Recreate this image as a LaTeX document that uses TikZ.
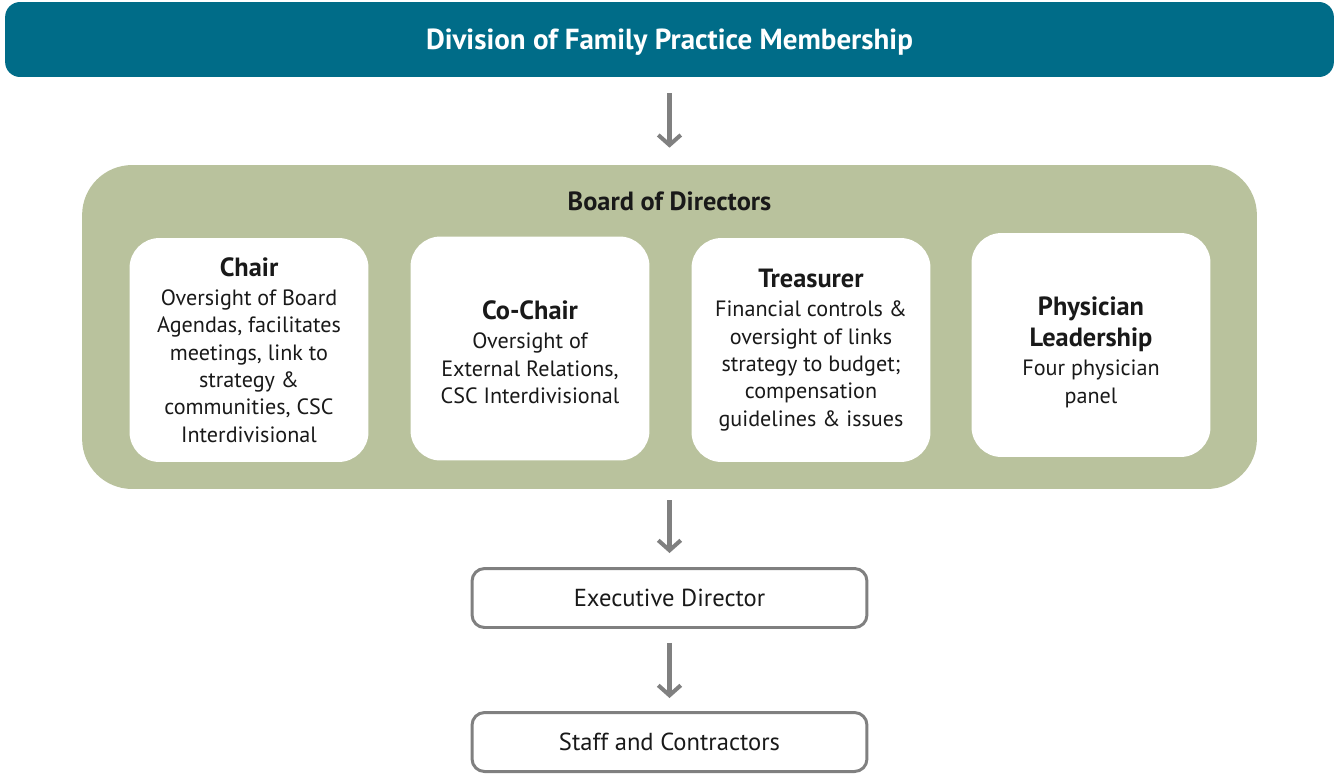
\documentclass[tikz,border=0pt]{standalone}
\usepackage{fontspec}
\setmainfont{PT Sans}
\usetikzlibrary{arrows.meta}

\definecolor{membteal}{RGB}{0,108,136}
\definecolor{boardgreen}{RGB}{185,194,157}
\definecolor{arrowgray}{RGB}{128,128,128}
\definecolor{textdark}{RGB}{25,25,25}

\tikzset{
  banner/.style={fill=membteal, rounded corners=0.3cm, minimum width=26.58cm, minimum height=1.5cm,
    text=white, text depth=0pt, font=\fontsize{16.5}{19}\selectfont\bfseries},
  boardbox/.style={fill=boardgreen, rounded corners=1cm, minimum width=23.5cm, minimum height=6.48cm},
  rolebox/.style={fill=white, rounded corners=0.6cm, minimum width=4.78cm, minimum height=4.48cm,
    align=center, text=textdark, font=\fontsize{12.6}{15.6}\selectfont},
  staffbox/.style={draw=arrowgray, line width=1.7pt, rounded corners=0.25cm, minimum width=7.9cm,
    minimum height=1.18cm, text=textdark, font=\fontsize{14}{16}\selectfont},
  flow/.style={draw=arrowgray, line width=2.3pt, -{Straight Barb[length=0.2cm,width=0.45cm]}},
}
\newcommand{\roletitle}[1]{{\fontsize{15}{15.6}\selectfont\bfseries #1}}

\begin{document}
\begin{tikzpicture}[x=0.02cm, y=-0.02cm]
  \useasboundingbox (0,0) rectangle (1334,774);

  % Membership banner
  \node[banner] (membership) at (669.5,39.5) {Division of Family Practice Membership};

  % Board and its roles
  \node[boardbox] (board) at (669.5,327) {};
  \node[text=textdark, font=\fontsize{15}{17}\selectfont\bfseries] (boardtitle) at (669.5,201) {Board of Directors};

  \node[rolebox] (chair) at (249,350) {\roletitle{Chair}\\[1pt]Oversight of Board\\Agendas, facilitates\\meetings, link to\\strategy \&\\communities, CSC\\Interdivisional};
  \node[rolebox] (cochair) at (530,348.5) {\rule{0pt}{15pt}\roletitle{Co-Chair}\\[1pt]Oversight of\\External Relations,\\CSC Interdivisional};
  \node[rolebox] (treasurer) at (811,350) {\roletitle{Treasurer}\\[1pt]Financial controls \&\\oversight of links\\strategy to budget;\\compensation\\guidelines \& issues};
  \node[rolebox] (physician) at (1091,345) {\rule{0pt}{19pt}\roletitle{Physician}\\[2pt]\roletitle{Leadership}\\[1pt]Four physician\\panel};

  % Staff below the board
  \node[staffbox] (execdir) at (669.5,598) {Executive Director};
  \node[staffbox] (staff) at (669.5,742) {Staff and Contractors};

  % Flow arrows
  \draw[flow, shorten <=0.32cm, shorten >=0.34cm] (membership) -- (board);
  \draw[flow, shorten <=0.22cm, shorten >=0.28cm] (board) -- (execdir);
  \draw[flow, shorten <=0.28cm, shorten >=0.26cm] (execdir) -- (staff);
\end{tikzpicture}
\end{document}
